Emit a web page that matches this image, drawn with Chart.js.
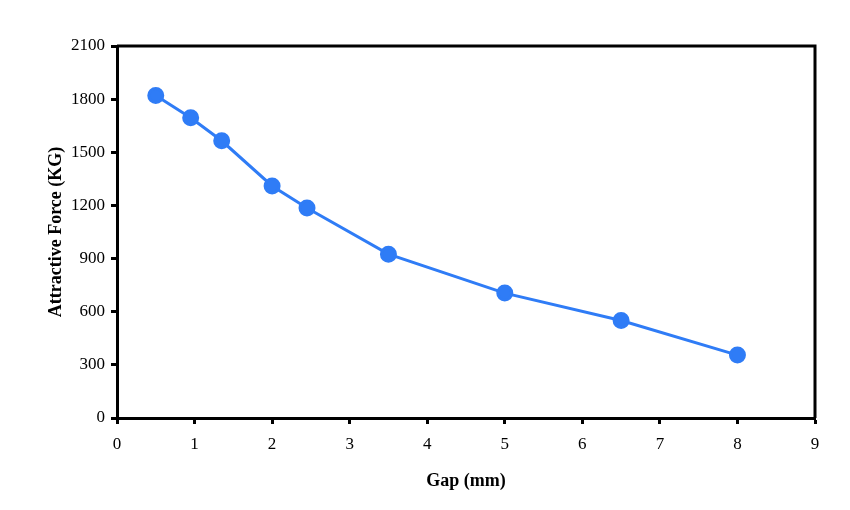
<!DOCTYPE html>
<html>
<head>
<meta charset="utf-8">
<script src="https://cdn.jsdelivr.net/npm/chart.js@4"></script>
<style>
  html, body { margin: 0; padding: 0; background: #fff; }
  #wrap { width: 850px; height: 510px; }
</style>
</head>
<body>
<div id="wrap"><canvas id="chart" width="850" height="510"></canvas></div>
<script>
// gap in mm, force in KG
const gapMm = [0.5, 0.95, 1.35, 2, 2.45, 3.5, 5, 6.5, 8];
const forceKg = [1820, 1695, 1565, 1310, 1185, 925, 705, 550, 355];
const xTicks = [0, 1, 2, 3, 4, 5, 6, 7, 8, 9];
const yTicks = [0, 300, 600, 900, 1200, 1500, 1800, 2100];

const serif = "'Liberation Serif', 'DejaVu Serif', serif";
const blue = '#2f7cf6';

// top and right edges of the plot frame
const framePlugin = {
    id: 'frame',
    afterDraw(chart) {
        const {ctx, chartArea: a} = chart;
        ctx.save();
        ctx.strokeStyle = '#000';
        ctx.lineWidth = 3;
        ctx.beginPath();
        ctx.moveTo(a.left, a.top);
        ctx.lineTo(a.right, a.top);
        ctx.lineTo(a.right, a.bottom);
        ctx.stroke();
        ctx.restore();
    }
};

new Chart(document.getElementById('chart'), {
    type: 'line',
    data: {
        datasets: [{
            data: gapMm.map((g, i) => ({x: g, y: forceKg[i]})),
            borderColor: blue,
            backgroundColor: blue,
            borderWidth: 3,
            pointRadius: 7,
            pointHoverRadius: 7,
            tension: 0
        }]
    },
    options: {
        responsive: false,
        animation: false,
        layout: {padding: {top: 46, right: 35, left: 42, bottom: 18}},
        plugins: {legend: {display: false}, tooltip: {enabled: false}},
        scales: {
            x: {
                type: 'linear',
                min: 0,
                max: 9,
                afterBuildTicks: (s) => { s.ticks = xTicks.map(v => ({value: v})); },
                afterFit: (s) => { s.height = 74; },
                grid: {drawOnChartArea: false, drawTicks: true, tickLength: 6, tickWidth: 3, tickColor: '#000'},
                border: {display: true, color: '#000', width: 3},
                ticks: {color: '#000', font: {family: serif, size: 17}, padding: 10, maxRotation: 0,
                        callback: (v) => String(v)},
                title: {display: true, text: 'Gap (mm)', color: '#000', font: {family: serif, size: 18, weight: 'bold'}, padding: {top: 8, bottom: 0}}
            },
            y: {
                min: 0,
                max: 2100,
                afterBuildTicks: (s) => { s.ticks = yTicks.map(v => ({value: v})); },
                afterFit: (s) => { s.width = 75; },
                grid: {drawOnChartArea: false, drawTicks: true, tickLength: 6, tickWidth: 3, tickColor: '#000'},
                border: {display: true, color: '#000', width: 3},
                ticks: {color: '#000', font: {family: serif, size: 17}, padding: 6,
                        callback: (v) => String(v)},
                title: {display: true, text: 'Attractive Force (KG)', color: '#000', font: {family: serif, size: 18, weight: 'bold'}, padding: {bottom: 0}}
            }
        }
    },
    plugins: [framePlugin]
});
</script>
</body>
</html>
